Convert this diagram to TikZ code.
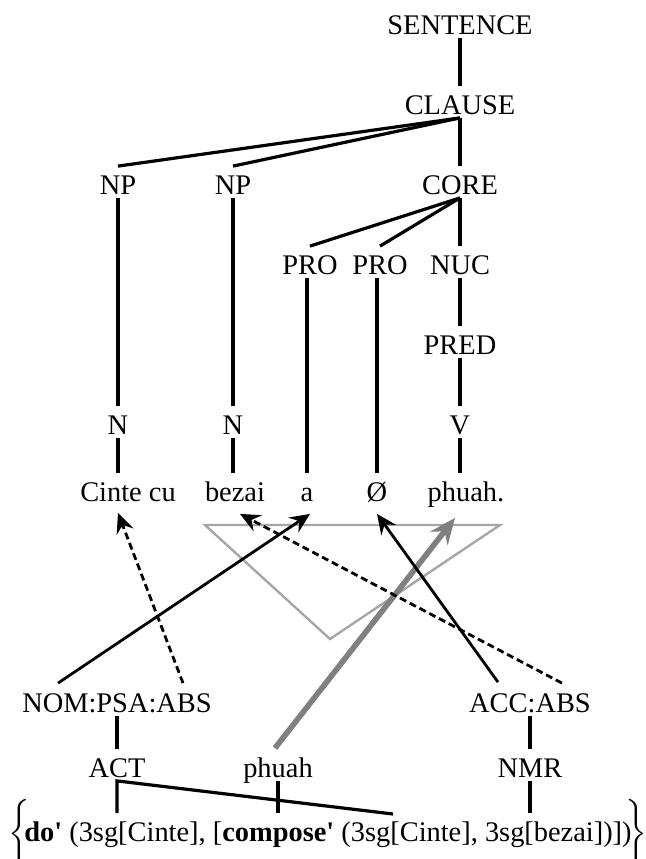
\documentclass[tikz,border=0pt]{standalone}
\usepackage{fontspec}
\setmainfont{Liberation Serif}
\usepackage{tikz}
\usetikzlibrary{arrows.meta, calc}
\usepackage{amsmath}

\begin{document}
\begin{tikzpicture}[x=0.5pt, y=-0.5pt, node distance={40pt},
    font=\fontsize{14.2}{17}\selectfont,
    main/.style = {inner sep=0pt, text height=14pt, text depth=1.5pt},
    tree/.style = {line width=1.6pt},
    link/.style = {line width=1.4pt, -{Stealth[length=10pt, width=9pt, inset=3.5pt]}},
    dashlink/.style = {link, dash pattern=on 3.5pt off 2pt},
    pred link/.style = {line width=2.8pt, black!50, -{Stealth[length=13pt, width=11pt, inset=4.5pt]}},
    focus/.style = {line width=1.2pt, black!35, line join=miter}]
            \useasboundingbox (0,0) rectangle (645,859);

            \node[main] (sent) at (460,22) {SENTENCE};
            \node[main] (clause) [below of=sent] {CLAUSE};
            \node[main] (core) [below of=clause] {CORE};
            \node[main] (nuc) [below of=core] {NUC};
            \node[main] (pred) [below of=nuc] {PRED};
            \node[main] (v) [below of=pred] {V};

            \node[main] (pro2) [left of=nuc] {PRO};
            \node[main] (pro1) [left of=pro2, node distance=35pt] {PRO};
            \node[main] (np2) [left of=core, node distance=113.5pt] {NP};
            \node[main] (np1) [left of=np2, node distance=57.5pt] {NP};
            \node[main] (n2) [left of=v, node distance=113.5pt] {N};
            \node[main] (n1) [left of=n2, node distance=57.5pt] {N};

            \node[main] (cinte) at (128,489) {Cinte cu};
            \node[main] (bezai) at (235,489) {bezai};
            \node[main] (a) at (307,489) {a};
            \node[main] (zero) at (377,489) {Ø};
            \node[main] (phuahv) at (466,489) {phuah.};

            \node[main] (nom) at (117,700) {NOM:PSA:ABS};
            \node[main] (acc) at (530,700) {ACC:ABS};
            \node[main] (act) [below of=nom, node distance=32.5pt] {ACT};
            \node[main] (nmr) [below of=acc, node distance=32.5pt] {NMR};
            \node[main] (phuah) at (278,765) {phuah};
            \node[main] (lsr) at (328,829) {$\bigg\{\kern-3pt$\textbf{do\textquotesingle} (3sg[Cinte], [\textbf{compose\textquotesingle} (3sg[Cinte], 3sg[bezai])])$\kern-3pt\bigg\}$};
            \coordinate (cmp) at (393,814);

            \draw[tree] (sent) -- (clause);
            \draw[tree] (clause) -- (core);
            \draw[tree] (clause.south) -- (np1.north);
            \draw[tree] (clause.south) -- (np2.north);
            \draw[tree] (core.south) -- (pro1.north);
            \draw[tree] (core.south) -- (pro2.north);
            \draw[tree] (core) -- (nuc);
            \draw[tree] (nuc) -- (pred);
            \draw[tree] (pred) -- (v);
            \draw[tree] (np1) -- (n1);
            \draw[tree] (np2) -- (n2);

            \draw[tree] (n1) -- (n1 |- cinte.north);
            \draw[tree] (n2) -- (n2 |- bezai.north);
            \draw[tree] (pro1.south -| a) -- (a);
            \draw[tree] (pro2.south -| zero) -- (zero);
            \draw[tree] (v) -- (v |- phuahv.north);

            \draw[tree] (nom) -- (act);
            \draw[tree] (acc) -- (nmr);
            \draw[tree] (cmp) -- (act.south) -- (act.south |- lsr.north);
            \draw[tree] (phuah) -- (phuah.south |- lsr.north);
            \draw[tree] (nmr) -- (nmr.south |- lsr.north);

            \draw[focus] (205,525) -- (500,525) -- (330,639) -- cycle;

            \draw[pred link] ($(phuah.north)+(-3,-1)$) -- ($(phuahv.south)+(-11,13)$);
            \draw[link] ($(nom.north)+(-59,-1)$) -- ($(a.south)+(3,9)$);
            \draw[dashlink] ($(nom.north)+(66,-1)$) -- ($(cinte.south)+(-10,8)$);
            \draw[link] ($(acc.north)+(-32,-2)$) -- ($(zero.south)+(0,9)$);
            \draw[dashlink] ($(acc.north)+(32,-1)$) -- ($(bezai.south)+(5,9)$);
        \end{tikzpicture}
\end{document}
